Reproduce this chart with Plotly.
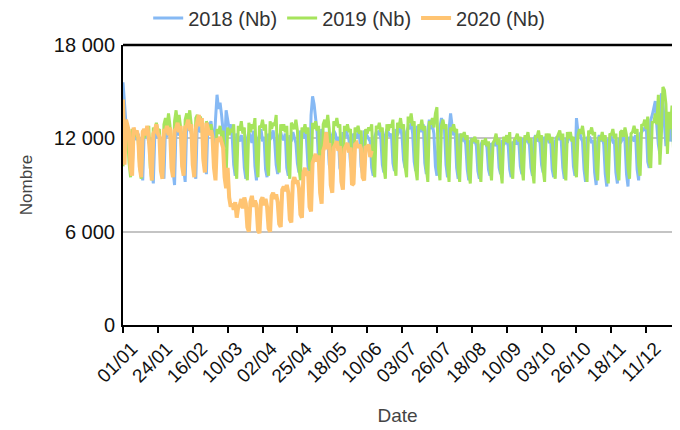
import plotly.graph_objects as go
import pandas as pd

# Category labels (day/month of a leap year, as on the reference axis)
days = [d.strftime("%d/%m") for d in pd.date_range("2020-01-01", "2020-12-31")]
tick_labels = ["01/01", "24/01", "16/02", "10/03", "02/04", "25/04", "18/05", "10/06",
               "03/07", "26/07", "18/08", "10/09", "03/10", "26/10", "18/11", "11/12"]
y_tick_vals = [0, 6000, 12000, 18000]
y_tick_text = ["0", "6 000", "12 000", "18 000"]

v2018 = [
    15600, 14100, 12900, 12600, 12200, 10400, 9700,
    12400, 12200, 11900, 12300, 11800, 10100, 9300,
    12500, 12100, 12300, 11700, 12000, 10000, 9100,
    12300, 12600, 12000, 12200, 11600, 10200, 9400,
    12600, 12100, 12400, 12300, 11900, 9900, 9000,
    12800, 12400, 12200, 12600, 12000, 10100, 9200,
    12900, 12500, 12700, 12300, 12200, 10300, 9400,
    13000, 12600, 12400, 12800, 12100, 10500, 9700,
    13000, 12700, 13100, 12400, 11500, 13200, 14800,
    13900, 14300, 13500, 12200, 11400, 13800, 13200,
    12600, 12900, 12100, 10300, 9600, 12300, 12000,
    11800, 12200, 11900, 10100, 9400, 12000, 12400,
    12100, 11700, 12500, 10200, 9300, 11900, 12200,
    12600, 11800, 12100, 10000, 9500, 12300, 11900,
    12200, 12500, 11800, 10300, 9700, 12100, 12400,
    12000, 11900, 12300, 10100, 9600, 12200, 11800,
    12400, 12100, 11700, 10400, 9800, 12500, 12300,
    12000, 12600, 11900, 10200, 9700, 13500, 14700,
    14200, 13100, 12400, 10500, 10000, 12600, 12300,
    12100, 12400, 12000, 10300, 9900, 12200, 12500,
    12300, 11800, 12100, 10100, 9800, 12400, 12000,
    12600, 12200, 11900, 10400, 9900, 12300, 12100,
    12000, 12400, 12200, 10200, 9700, 12500, 12300,
    12200, 12000, 11800, 10100, 9600, 12100, 12400,
    12300, 12500, 12000, 10300, 9800, 12200, 12600,
    12400, 12100, 12300, 10400, 9900, 12600, 12200,
    12500, 12800, 12100, 10600, 10100, 12400, 12700,
    12600, 13000, 12300, 10500, 9900, 12800, 12400,
    12700, 12400, 12900, 10400, 9700, 12500, 13200,
    12600, 12900, 12300, 10200, 9600, 12400, 12700,
    13300, 12800, 12500, 10300, 9500, 12600, 13600,
    12800, 12200, 12400, 10100, 9400, 12300, 12000,
    11900, 12100, 11600, 10000, 9300, 11800, 12000,
    11700, 11900, 11500, 9900, 9400, 11600, 11800,
    11600, 11800, 11400, 10000, 9600, 11700, 11500,
    11800, 11500, 11700, 10100, 9700, 11900, 11600,
    11700, 11900, 11500, 10000, 9500, 11800, 11600,
    11900, 11600, 11800, 10200, 9700, 12000, 11700,
    12100, 11800, 11600, 10100, 9600, 11900, 12200,
    11800, 12000, 11700, 10300, 9800, 12100, 11900,
    12000, 11700, 11900, 10000, 9500, 11800, 12100,
    11900, 12300, 11800, 10100, 9400, 12000, 11700,
    12200, 11900, 12100, 10200, 9600, 13300, 12400,
    12500, 12000, 11800, 10000, 9200, 12100, 11900,
    12000, 11700, 11900, 9800, 9000, 11800, 12200,
    11800, 12100, 11600, 9700, 8900, 11900, 12000,
    12100, 11800, 11900, 9800, 9100, 12000, 11700,
    11900, 12200, 11800, 9700, 8900, 12100, 11900,
    12000, 11800, 12200, 10000, 9300, 12300, 12400,
    12600, 12500, 12900, 10500, 10100, 13200, 13500,
    13900, 14400, 12800, 11600, 11000, 14900, 14300,
    13000, 11500, 12600, 12900, 11800, 12800, 13300,
    13300,
]

v2019 = [
    10200, 12900, 12500, 12300, 10400, 9500, 12600,
    12300, 12100, 12400, 11900, 10200, 9400, 12500,
    12000, 12600, 12200, 12800, 10100, 9300, 12700,
    12400, 13000, 12500, 12600, 10300, 9600, 12900,
    13300, 12700, 13600, 12800, 10500, 9700, 13100,
    13800, 12900, 13500, 12700, 10400, 9800, 13200,
    13600, 13100, 13800, 12900, 10600, 10000, 13300,
    13500, 12800, 13400, 13000, 10700, 10100, 13100,
    12700, 12400, 12900, 12200, 10800, 10200, 12600,
    12300, 12800, 12100, 12500, 10400, 9500, 12700,
    12200, 12600, 12400, 12900, 10300, 9400, 12800,
    12500, 13100, 12300, 12700, 10200, 9300, 13000,
    12400, 12900, 12600, 13300, 10400, 9500, 12800,
    12700, 13200, 12500, 12900, 10300, 9600, 13100,
    12600, 13000, 12800, 13500, 10500, 9800, 12900,
    12500, 12900, 12400, 12800, 10300, 9400, 13000,
    12800, 12600, 13200, 12500, 10100, 9300, 12700,
    12400, 12900, 12300, 12700, 10200, 9500, 13000,
    12600, 13100, 12500, 12800, 10000, 9300, 12900,
    13200, 12700, 13500, 12600, 10400, 9700, 13100,
    12800, 13300, 12700, 12900, 10300, 9600, 12800,
    12500, 12900, 12400, 12600, 10100, 9400, 12700,
    12400, 12800, 12300, 12500, 10000, 9300, 12600,
    12300, 12700, 12500, 12900, 10200, 9500, 12800,
    12600, 13000, 12400, 12700, 10100, 9400, 12900,
    12500, 12900, 12700, 13200, 10300, 9600, 13000,
    12700, 13300, 12600, 12900, 10200, 9500, 13400,
    13000, 13600, 12800, 13100, 10000, 9300, 12900,
    12600, 13200, 12500, 12800, 10100, 9200, 13100,
    12900, 13300, 12700, 13600, 14000, 10100, 9300,
    12800, 13200, 12600, 12900, 10300, 9200, 12700,
    12500, 12900, 12400, 12600, 10000, 9200, 12300,
    12100, 12400, 11900, 12200, 9800, 9100, 12000,
    11800, 12100, 11700, 11900, 9900, 9200, 11900,
    11600, 12000, 11500, 11800, 10100, 9300, 11700,
    11900, 12300, 11600, 12000, 10000, 9100, 12100,
    11800, 12200, 11700, 12400, 10200, 9400, 11900,
    12000, 12300, 11800, 12100, 10100, 9300, 12200,
    11900, 12400, 11700, 12000, 9900, 9100, 12100,
    12100, 12500, 11800, 12200, 10000, 9200, 12300,
    11900, 12300, 11700, 12100, 10100, 9400, 12000,
    12200, 12500, 11900, 12300, 10000, 9300, 12400,
    12000, 12400, 11800, 12100, 10200, 9500, 12200,
    12600, 12300, 12800, 12100, 10000, 9200, 12500,
    12300, 12700, 12200, 12400, 10100, 9300, 12100,
    11900, 12400, 11800, 12200, 9900, 9100, 12300,
    12200, 12600, 12000, 12300, 10000, 9300, 12400,
    12500, 12100, 12700, 12200, 10100, 9400, 12300,
    12400, 12800, 12300, 12600, 10300, 9600, 12900,
    12800, 13200, 12600, 13400, 10500, 10100, 13100,
    13000, 13600, 12900, 14800, 10300, 12200, 15300,
    15100, 14200, 11000, 13700, 12600, 14100, 11300,
    12500,
]

v2020 = [
    14500, 10300, 13200, 12800, 12400, 10100, 9600,
    12700, 12300, 12500, 12100, 10200, 9500, 12400,
    12600, 12200, 12800, 12000, 10000, 9300, 12300,
    12500, 12900, 12300, 12100, 9900, 9400, 12600,
    12400, 12800, 12200, 12700, 10100, 9500, 12500,
    12600, 13000, 12400, 12800, 10200, 9600, 12700,
    12800, 13200, 12500, 12900, 10300, 9500, 12600,
    13100, 13500, 12800, 13300, 10600, 9800, 13000,
    12700, 12200, 12500, 12100, 10100, 9300, 12000,
    11800, 12100, 11600, 11400, 9500, 8800, 10100,
    8200, 7600, 7800, 7400, 7900, 6900, 7600,
    7700, 8100, 7500, 8200, 7800, 6300, 6000,
    7900, 8300, 7600, 8000, 7700, 6100, 5900,
    8000, 8200, 7700, 8100, 7600, 6200, 6000,
    8300, 8500, 8100, 8400, 7900, 6500, 6300,
    8700, 8900, 8600, 9000, 8500, 6800, 6600,
    9200, 9500, 9100, 9300, 8800, 7100, 6900,
    9800, 10100, 9600, 9900, 7600, 7300, 10400,
    10700, 11000, 10500, 10900, 8500, 7800, 11200,
    11500, 12400, 11300, 11700, 9000, 8500, 11400,
    11600, 11800, 11200, 11500, 9200, 8700, 11300,
    11500, 11700, 11100, 11400, 9000, 9100, 11600,
    11700, 11400, 11600, 11300, 9500, 9300, 11500,
    11400, 11600, 10800, 11200,
]

series = [
    ("2018 (Nb)", v2018, "#86b9f4", 3),
    ("2019 (Nb)", v2019, "#a6e45c", 3),
    ("2020 (Nb)", v2020, "#ffc472", 4),
]

fig = go.Figure()
for name, vals, color, width in series:
    fig.add_trace(go.Scatter(
        x=days[:len(vals)], y=vals, name=name, mode="lines",
        line=dict(color=color, width=width),
    ))

# The page body adds an 8 px offset; margins compensate for it.
font_family = "Liberation Sans, Arial, sans-serif"
fig.update_layout(
    width=680, height=430,
    margin=dict(l=115, r=16, t=37, b=113, autoexpand=False),
    paper_bgcolor="white", plot_bgcolor="white",
    font=dict(family=font_family, size=17, color="#222222"),
    showlegend=True,
    legend=dict(orientation="h", xref="paper", yref="paper",
                x=0.412, xanchor="center", y=1.096, yanchor="middle",
                font=dict(size=20, color="#333333"),
                itemwidth=30, tracegroupgap=0),
    xaxis=dict(
        type="category", categoryorder="array", categoryarray=days,
        range=[0, 362], automargin=False,
        tickmode="array", tickvals=tick_labels, ticktext=tick_labels,
        tickangle=-45, tickfont=dict(size=19, color="#111111"),
        ticklabelshift=9, ticklabelstandoff=-3,
        showline=True, linecolor="black", linewidth=2,
        ticks="outside", ticklen=6, tickcolor="black", tickwidth=1.5,
        showgrid=False, zeroline=False,
        title=dict(text="Date", font=dict(size=19, color="#444444"), standoff=23),
    ),
    yaxis=dict(
        range=[0, 18000], automargin=False,
        tickmode="array", tickvals=y_tick_vals, ticktext=y_tick_text,
        tickfont=dict(size=20, color="#111111"),
        showline=True, linecolor="black", linewidth=2,
        showgrid=True, gridcolor="#c4c4c4", gridwidth=2,
        zeroline=False, ticks="", ticklabelstandoff=2,
        title=dict(text="Nombre", font=dict(size=17, color="#444444"), standoff=17),
    ),
    shapes=[dict(type="line", xref="paper", yref="paper", x0=0, x1=1, y0=1, y1=1,
                 line=dict(color="black", width=2.5), layer="above")],
)

fig.write_html("out.html")
